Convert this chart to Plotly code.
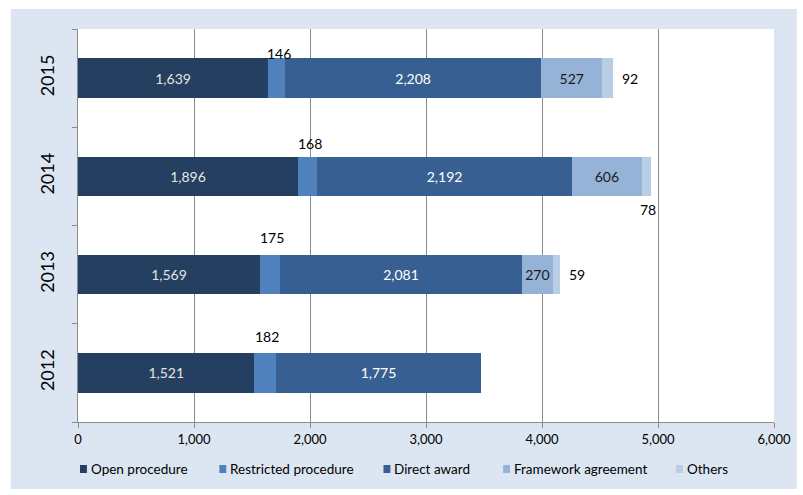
import plotly.graph_objects as go

# Contract awards by procedure type, per year
years = ["2012", "2013", "2014", "2015"]
open_procedure = [1521, 1569, 1896, 1639]
restricted_procedure = [182, 175, 168, 146]
direct_award = [1775, 2081, 2192, 2208]
framework_agreement = [0, 270, 606, 527]
others = [0, 59, 78, 92]

names = ["Open procedure", "Restricted procedure", "Direct award",
         "Framework agreement", "Others"]
values = [open_procedure, restricted_procedure, direct_award,
          framework_agreement, others]
colors = ["#243f60", "#4f81bd", "#375f91", "#95b3d7", "#b9cde5"]
inside_text = ["#e4e4e4", None, "#ffffff", "#1a1a1a", None]

FONT = "Lato, 'Open Sans', sans-serif"
W, H = 803, 495
L, R, T, B = 78, 21, 29, 73
PW, PH = W - L - R, H - T - B


def px_x(px):
    return (px - L) / PW


def px_y(py):
    return (H - B - py) / PH


fig = go.Figure()
for name, vals, color, txtcolor in zip(names, values, colors, inside_text):
    labels = [f"{v:,}" if (txtcolor and v) else "" for v in vals]
    fig.add_trace(go.Bar(
        name=name, y=years, x=vals, orientation="h",
        marker=dict(color=color, line=dict(width=0)),
        text=labels, textposition="inside", insidetextanchor="middle",
        textfont=dict(color=txtcolor or "#000", size=14, family=FONT),
        textangle=0, showlegend=False,
    ))

annotations = []
# Restricted procedure values sit above their slim segment
restricted_yshift = [36, 37, 33, 25]
for i in range(len(years)):
    centre = open_procedure[i] + restricted_procedure[i] / 2
    annotations.append(dict(
        x=centre, y=i, xref="x", yref="y", text=f"{restricted_procedure[i]:,}",
        showarrow=False, yshift=restricted_yshift[i], xshift=2,
        font=dict(size=14, color="#000", family=FONT)))
# Others values beside (or below) the end of the bar
for i, y in enumerate(years):
    if not others[i]:
        continue
    total = (open_procedure[i] + restricted_procedure[i] + direct_award[i]
             + framework_agreement[i] + others[i])
    if y == "2014":
        annotations.append(dict(
            x=total, y=i, xref="x", yref="y", text=f"{others[i]}",
            showarrow=False, xanchor="center", xshift=-3, yshift=-33,
            font=dict(size=14, color="#000", family=FONT)))
    else:
        annotations.append(dict(
            x=total, y=i, xref="x", yref="y", text=f"{others[i]}",
            showarrow=False, xanchor="left", xshift=7,
            font=dict(size=14, color="#000", family=FONT)))

shapes = [
    # light blue panel behind the chart
    dict(type="rect", xref="paper", yref="paper", x0=px_x(10), x1=px_x(W + 2),
         y0=px_y(489), y1=px_y(9), fillcolor="#dce6f2", line=dict(width=0),
         layer="below"),
    # white plotting area
    dict(type="rect", xref="paper", yref="paper", x0=0, x1=1, y0=0, y1=1,
         fillcolor="#ffffff", line=dict(width=0), layer="below"),
]

# Legend row: small colour squares followed by the series name
legend_left = [80, 221, 387, 508, 683]
legend_mid = 469
for name, color, lx in zip(names, colors, legend_left):
    shapes.append(dict(type="rect", xref="paper", yref="paper",
                       x0=px_x(lx), x1=px_x(lx + 7),
                       y0=px_y(legend_mid + 4), y1=px_y(legend_mid - 4),
                       fillcolor=color, line=dict(width=0)))
    annotations.append(dict(x=px_x(lx + 9), y=px_y(legend_mid), xref="paper",
                            yref="paper", text=name, showarrow=False,
                            xanchor="left", yanchor="middle",
                            font=dict(size=13.5, color="#000", family=FONT)))

fig.update_layout(
    barmode="stack", bargap=0.6,
    width=W, height=H,
    margin=dict(l=L, r=R, t=T, b=B),
    paper_bgcolor="#ffffff", plot_bgcolor="rgba(0,0,0,0)",
    font=dict(family=FONT, size=13, color="#000"),
    shapes=shapes, annotations=annotations,
    showlegend=False,
)
fig.update_xaxes(range=[0, 6000], dtick=1000, tickformat=",d",
                 showgrid=True, gridcolor="#8c8c8c", gridwidth=1,
                 showline=True, linecolor="#8c8c8c", linewidth=1,
                 ticks="outside", ticklen=5, tickcolor="#8c8c8c",
                 zeroline=False, tickfont=dict(size=13))
fig.update_yaxes(type="category", categoryorder="array", categoryarray=years,
                 range=[-0.5, 3.5],
                 showline=True, linecolor="#8c8c8c", linewidth=1,
                 ticks="outside", ticklen=5, tickcolor="#8c8c8c",
                 tickson="boundaries", showgrid=False, ticklabelstandoff=16,
                 tickangle=-90, tickfont=dict(size=18, color="#000"))

fig.write_html("out.html")
